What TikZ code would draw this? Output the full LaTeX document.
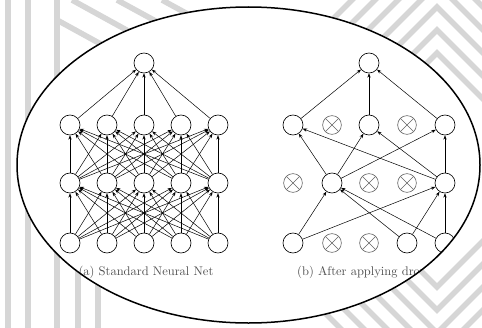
\documentclass[tikz,border=0pt]{standalone}
\usetikzlibrary{arrows.meta}
\definecolor{StripeClr}{RGB}{214,214,214}
\definecolor{DropClr}{RGB}{100,100,100}
\definecolor{CaptionClr}{RGB}{80,80,80}

\begin{document}
\begin{tikzpicture}[x=.8pt,y=-.8pt,
  unit/.style={circle,draw,line width=0.5pt,minimum size=16pt,inner sep=0pt,fill=white},
  dropped/.style={circle,draw=DropClr,line width=0.5pt,minimum size=15pt,inner sep=0pt,
    path picture={\draw[DropClr,line width=0.5pt]
      (path picture bounding box.north west) -- (path picture bounding box.south east)
      (path picture bounding box.north east) -- (path picture bounding box.south west);}},
  link/.style={-{Stealth[length=3.5pt,width=2.6pt]},line width=0.4pt},
  bgstripe/.style={StripeClr,line width=4.5pt}]

\useasboundingbox (0,0) rectangle (482,328);
\clip (0,0) rectangle (482,328);

% background pattern
\draw[bgstripe] (8,0) -- (8,328) (28,0) -- (28,328) (57,0) -- (57,328)
  (78,190) -- (78,328) (98,220) -- (98,328);
\draw[bgstripe] (57,20) -- (230,115) (72,0) -- (250,98) (117,0) -- (260,78) (162,0) -- (270,59);
\foreach \s in {117,140,163,186,209,232,255}
  \draw[bgstripe] (437,170-\s) -- (437+\s,170) -- (437,170+\s) -- (437-\s,170) -- cycle;

\fill[white] (248.5,165) ellipse [x radius=185.2pt,y radius=126.4pt];

\begin{scope}
\clip (248.5,165) ellipse [x radius=185.2pt,y radius=126.4pt];

% (a) standard net
\foreach \x [count=\i] in {70,107,144,181,218} {
  \node[unit] (A\i) at (\x,243) {};
  \node[unit] (B\i) at (\x,183) {};
  \node[unit] (C\i) at (\x,125) {};
}
\node[unit] (D) at (144,63) {};

\foreach \i in {1,...,5} {
  \foreach \j in {1,...,5} {
    \draw[link] (A\i) -- (B\j);
    \draw[link] (B\i) -- (C\j);
  }
  \draw[link] (C\i) -- (D);
}

% (b) thinned net
\node[unit] (P1) at (293,243) {};
\node[dropped] (P2) at (332,243) {};
\node[dropped] (P3) at (369,243) {};
\node[unit] (P4) at (407,243) {};
\node[unit] (P5) at (445,243) {};

\node[dropped] (Q1) at (293,183) {};
\node[unit] (Q2) at (332,183) {};
\node[dropped] (Q3) at (369,183) {};
\node[dropped] (Q4) at (407,183) {};
\node[unit] (Q5) at (445,183) {};

\node[unit] (R1) at (293,125) {};
\node[dropped] (R2) at (332,125) {};
\node[unit] (R3) at (369,125) {};
\node[dropped] (R4) at (407,125) {};
\node[unit] (R5) at (445,125) {};

\node[unit] (S) at (369,63) {};

\foreach \i in {1,4,5}
  \foreach \j in {2,5}
    \draw[link] (P\i) -- (Q\j);
\foreach \i in {2,5}
  \foreach \j in {1,3,5}
    \draw[link] (Q\i) -- (R\j);
\foreach \i in {1,3,5}
  \draw[link] (R\i) -- (S);

\node[text=CaptionClr] (capA) at (146,272) {(a) Standard Neural Net};
\node[text=CaptionClr] (capB) at (373,272) {(b) After applying dropout.};
\end{scope}

\draw[line width=1.2pt] (248.5,165) ellipse [x radius=185.2pt,y radius=126.4pt];

\end{tikzpicture}
\end{document}
